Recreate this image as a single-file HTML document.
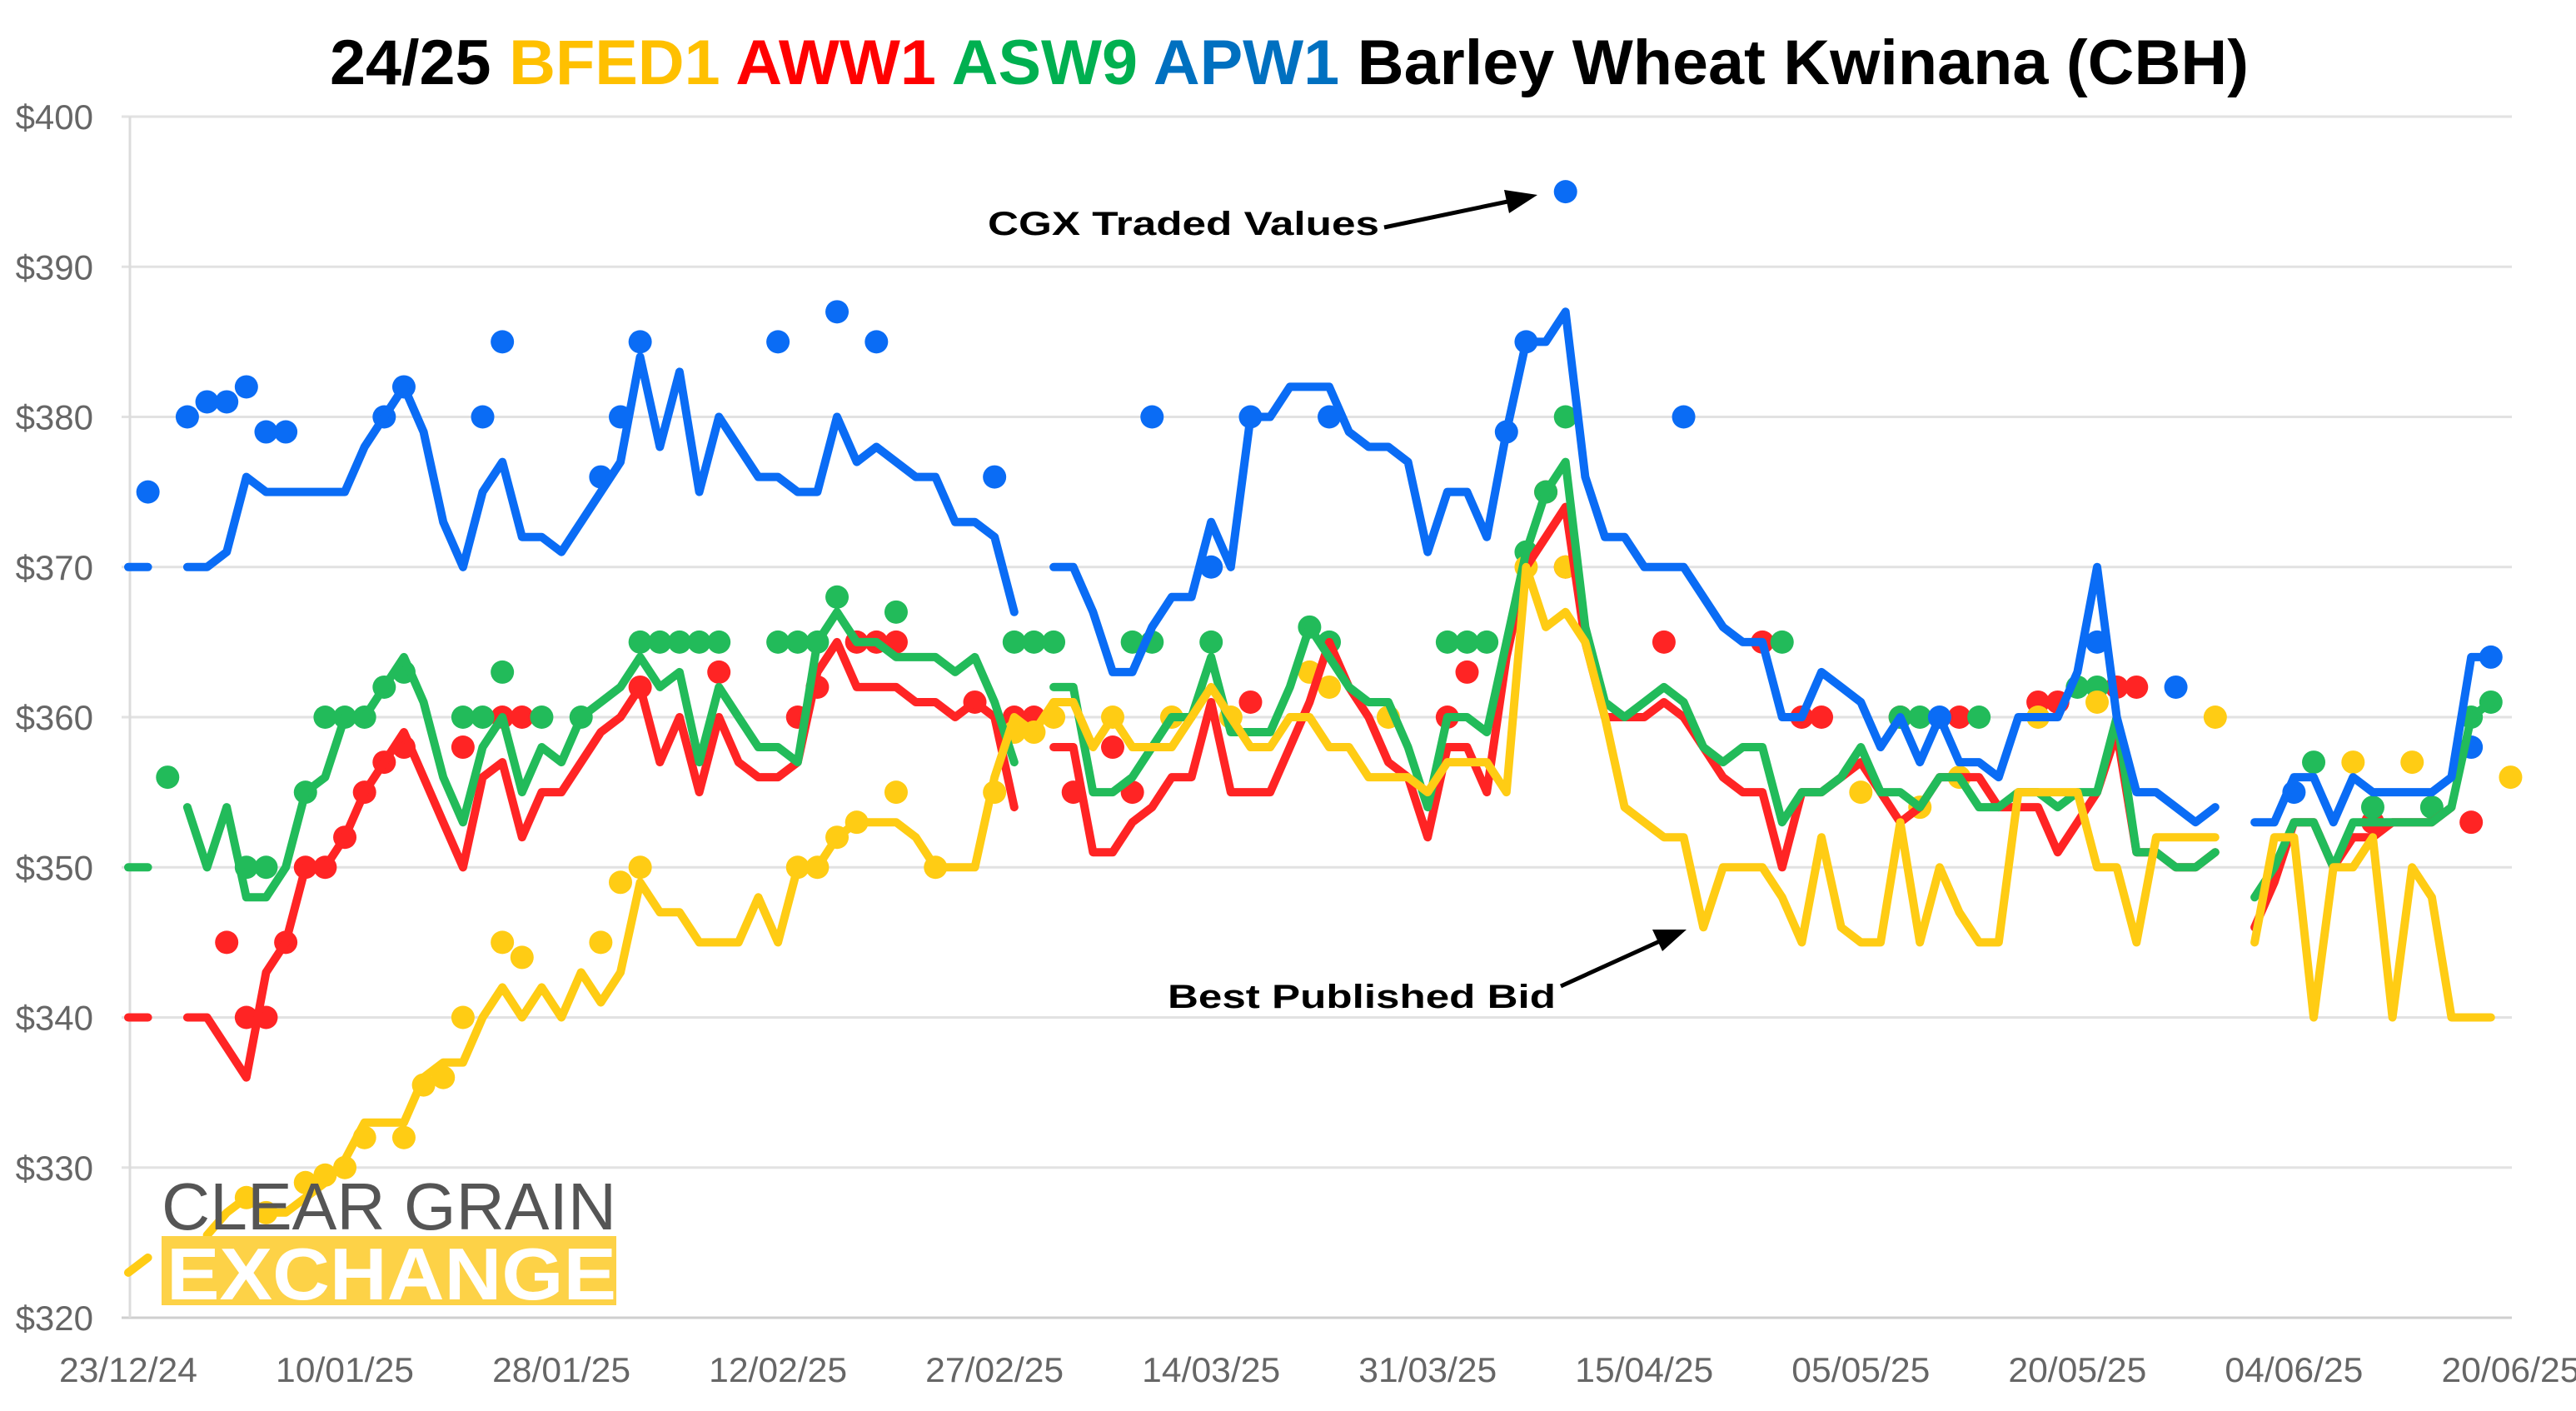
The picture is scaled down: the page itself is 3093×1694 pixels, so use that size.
<!DOCTYPE html>
<html><head><meta charset="utf-8"><title>24/25 Barley Wheat Kwinana</title>
<style>html,body{margin:0;padding:0;background:#fff;}svg{display:block;font-family:"Liberation Sans",Arial,sans-serif;}</style>
</head><body>
<svg id="chart" width="3093" height="1694" viewBox="0 0 3093 1694" xmlns="http://www.w3.org/2000/svg">
<rect x="0" y="0" width="3093" height="1694" fill="#fff"/>
<text x="396" y="101" font-size="76" font-weight="bold" textLength="2304" lengthAdjust="spacingAndGlyphs"><tspan fill="#000">24/25 </tspan><tspan fill="#FFC000">BFED1 </tspan><tspan fill="#FF0000">AWW1 </tspan><tspan fill="#00B050">ASW9 </tspan><tspan fill="#0070C0">APW1 </tspan><tspan fill="#000">Barley Wheat Kwinana (CBH)</tspan></text>
<g id="grid"></g>
<g id="series"></g>
<g id="logo">
<text x="194" y="1476" font-size="80" fill="#555" textLength="546" lengthAdjust="spacingAndGlyphs">CLEAR GRAIN</text>
<rect x="194" y="1484" width="546" height="83" fill="#FDD247"/>
<text x="200" y="1560" font-size="88" font-weight="bold" fill="#fff" textLength="540" lengthAdjust="spacingAndGlyphs">EXCHANGE</text>
</g>
<g>
<text x="1186" y="282" font-size="40" font-weight="bold" fill="#000" textLength="470" lengthAdjust="spacingAndGlyphs">CGX Traded Values</text>
<line x1="1662" y1="273" x2="1815" y2="241" stroke="#000" stroke-width="5"/>
<polygon points="1846,234 1806,228 1812,256" fill="#000"/>
</g>
<g>
<text x="1402" y="1210" font-size="40" font-weight="bold" fill="#000" textLength="466" lengthAdjust="spacingAndGlyphs">Best Published Bid</text>
<line x1="1874" y1="1184" x2="1995" y2="1129" stroke="#000" stroke-width="5"/>
<polygon points="2025,1116 1984,1116 1996,1142" fill="#000"/>
</g>
</svg>
<script>
const yTicks = [320,330,340,350,360,370,380,390,400];
const xLabels = ["23/12/24","10/01/25","28/01/25","12/02/25","27/02/25","14/03/25","31/03/25","15/04/25","05/05/25","20/05/25","04/06/25","20/06/25"];
const apw1 = [370,370,null,370,370,371,376,375,375,375,375,375,378,380,382,379,373,370,375,377,372,372,371,373,375,377,384,378,383,375,380,378,376,376,375,375,380,377,378,377,376,376,373,373,372,367,null,370,370,367,363,363,366,368,368,373,370,380,380,382,382,382,379,378,378,377,371,375,375,372,379,385,385,387,376,372,372,370,370,370,368,366,365,365,360,360,363,362,361,358,360,357,360,357,357,356,360,360,360,363,370,360,355,355,354,353,354,null,353,353,356,356,353,356,355,355,355,355,356,364,364];
const asw9 = [350,350,null,354,350,354,348,348,350,355,356,360,360,362,364,361,356,353,358,360,355,358,357,360,361,362,364,362,363,357,362,360,358,358,357,365,367,365,365,364,364,364,363,364,361,357,null,362,362,355,355,356,358,360,360,364,359,359,359,362,366,364,362,361,361,358,354,360,360,359,365,371,375,377,366,361,360,361,362,361,358,357,358,358,353,355,355,356,358,355,355,354,356,356,354,354,355,355,354,355,355,360,351,351,350,350,351,null,348,350,353,353,350,353,353,353,353,353,354,360,361];
const aww1 = [340,340,null,340,340,338,336,343,345,350,350,352,355,357,359,356,353,350,356,357,352,355,355,357,359,360,362,357,360,355,360,357,356,356,357,363,365,362,362,362,361,361,360,361,360,354,null,358,358,351,351,353,354,356,356,361,355,355,355,358,361,365,362,360,357,356,352,358,358,355,364,370,372,374,365,360,360,360,361,360,358,356,355,355,350,355,355,356,357,355,353,354,356,356,356,354,354,354,351,353,355,359,351,351,350,350,351,null,346,349,353,353,350,352,352,353,353,353,354,null,null];
const bfed1 = [323,324,null,null,325.5,327,328,327,327,328,329,330.5,333,333,333,336,337,337,340,342,340,342,340,343,341,343,349,347,347,345,345,345,348,345,350,350,352,353,353,353,352,350,350,350,356,360,359,361,361,358,360,358,358,358,360,362,360,358,358,360,360,358,358,356,356,356,355,357,357,357,355,370,366,367,365,360,354,353,352,352,346,350,350,350,348,345,352,346,345,345,353,345,350,347,345,345,355,355,355,355,350,350,345,352,352,352,352,null,345,352,352,340,350,350,352,340,350,348,340,340,340];
const blueDotIdx = [1,3,4,5,6,7,8,13,14,18,19,24,25,26,33,36,38,44,52,55,57,61,70,71,73,79,92,100,104,110,119,120];
const blueDotVal = [375,380,381,381,382,379,379,380,382,380,385,376,380,385,385,387,385,376,380,370,380,380,379,385,395,380,360,365,362,355,358,364];
const greenDotIdx = [2,6,7,9,10,11,12,13,14,17,18,19,21,23,26,27,28,29,30,33,34,35,36,39,45,46,47,51,52,55,60,61,67,68,69,71,72,73,84,90,91,94,99,100,111,114,117,119,120];
const greenDotVal = [356,350,350,355,360,360,360,362,363,360,360,363,360,360,365,365,365,365,365,365,365,365,368,367,365,365,365,365,365,365,366,365,365,365,365,371,375,380,365,360,360,360,362,362,357,354,354,360,361];
const redDotIdx = [5,6,7,8,9,10,11,12,13,14,17,19,20,26,30,34,35,37,38,39,43,45,46,48,50,51,57,67,68,72,73,78,83,85,86,90,93,97,98,101,102,114,119];
const redDotVal = [345,340,340,345,350,350,352,355,357,358,358,360,360,362,363,360,362,365,365,365,361,360,360,355,358,355,361,360,363,375,370,365,365,360,360,360,360,361,361,362,362,353,353];
const yellowDotIdx = [6,7,9,10,11,12,14,15,16,17,19,20,24,25,26,34,35,36,37,39,41,44,45,46,47,50,53,56,60,61,64,71,73,88,91,93,97,100,106,113,116,121];
const yellowDotVal = [328,327,329,329.5,330,332,332,335.5,336,340,345,344,345,349,350,350,350,352,353,355,350,355,359,359,360,360,360,360,363,362,360,370,370,355,354,356,360,361,360,357,357,356];

const NS = "http://www.w3.org/2000/svg";
const X0 = 154, DX = 23.64, YTOP = 140, PXPER = 18.025, PLOT_L = 156, PLOT_R = 3016;
function xPos(i){ return X0 + i*DX; }
function yPos(v){ return YTOP + (400 - v)*PXPER; }
function mk(tag, attrs){ const e = document.createElementNS(NS, tag); for (const k in attrs) e.setAttribute(k, attrs[k]); return e; }

const grid = document.getElementById('grid');
yTicks.forEach(t => {
  const ln = mk('line', {x1: PLOT_L-10, x2: PLOT_R, y1: yPos(t), y2: yPos(t), stroke: t===320 ? '#cfcfcf' : '#e2e2e2', 'stroke-width': 3});
  
  
  grid.appendChild(ln);
  const tx = mk('text', {x: 112, y: yPos(t)+15, 'font-size': 42, fill: '#666', 'text-anchor': 'end'});
  tx.textContent = '$' + t;
  
  
  grid.appendChild(tx);
});
const axis = mk('line', {x1: PLOT_L, x2: PLOT_L, y1: YTOP, y2: yPos(320), stroke: '#dcdcdc', 'stroke-width': 3});


grid.appendChild(axis);
xLabels.forEach((lab, k) => {
  const tx = mk('text', {x: xPos(k*11), y: 1659, 'font-size': 42, fill: '#666', 'text-anchor': 'middle', textLength: 166, lengthAdjust: 'spacingAndGlyphs'});
  tx.textContent = lab;
  
  
  grid.appendChild(tx);
});

const series = document.getElementById('series');
function drawLine(vals, color, name){
  let d = '', pen = false;
  vals.forEach((v, i) => {
    if (v === null) { pen = false; return; }
    d += (pen ? 'L' : 'M') + xPos(i).toFixed(1) + ' ' + yPos(v).toFixed(1) + ' ';
    pen = true;
  });
  const p = mk('path', {d: d, fill: 'none', stroke: color, 'stroke-width': 10, 'stroke-linejoin': 'round', 'stroke-linecap': 'round'});
  
  
  series.appendChild(p);
}
function drawDots(idx, vals, color, name){
  idx.forEach((i, k) => {
    const c = mk('circle', {cx: xPos(i), cy: yPos(vals[k]), r: 14, fill: color});
    
    
    series.appendChild(c);
  });
}
drawDots(redDotIdx, redDotVal, '#FF2424', 'aww1-traded-dot');
drawDots(greenDotIdx, greenDotVal, '#22BB5A', 'asw9-traded-dot');
drawDots(blueDotIdx, blueDotVal, '#0A6CF5', 'apw1-traded-dot');
drawDots(yellowDotIdx, yellowDotVal, '#FFCC14', 'bfed1-traded-dot');
drawLine(aww1, '#FF2424', 'aww1-line');
drawLine(asw9, '#22BB5A', 'asw9-line');
drawLine(apw1, '#0A6CF5', 'apw1-line');
drawLine(bfed1, '#FFCC14', 'bfed1-line');
</script>
</body></html>
